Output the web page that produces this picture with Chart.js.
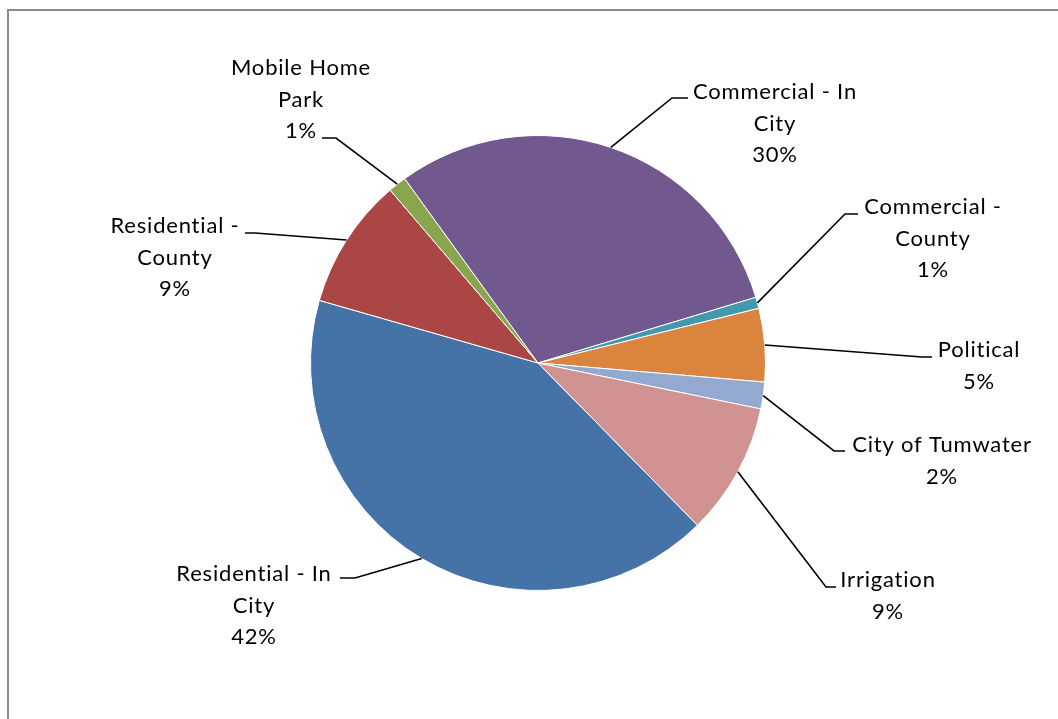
<!DOCTYPE html>
<html>
<head>
<meta charset="utf-8">
<script src="https://cdn.jsdelivr.net/npm/chart.js@4.4.1/dist/chart.umd.min.js"></script>
<style>
  html, body { margin: 0; padding: 0; background: #fff; }
  #wrap { width: 1058px; height: 719px; position: relative; }
</style>
</head>
<body>
<div id="wrap"><canvas id="pieChart" width="1058" height="719"></canvas></div>
<script>
// Data (clockwise from the Irrigation / Residential boundary)
const categories = ['Residential - In City', 'Residential - County', 'Mobile Home Park',
  'Commercial - In City', 'Commercial - County', 'Political', 'City of Tumwater', 'Irrigation'];
const shares = [41.8, 9.3, 1.3, 30.3, 0.8, 5.2, 1.9, 9.4];
const percentLabels = ['42%', '9%', '1%', '30%', '1%', '5%', '2%', '9%'];

// Label text lines and layout (text centre x, first line y, elbow point, end of tick)
const labelLines = [
  ['Residential - In', 'City'],
  ['Residential -', 'County'],
  ['Mobile Home', 'Park'],
  ['Commercial - In', 'City'],
  ['Commercial -', 'County'],
  ['Political'],
  ['City of Tumwater'],
  ['Irrigation']
];
const labelLayout = [
  { x: 254, y: 574, elbow: [355, 578], end: [340, 578] },
  { x: 175, y: 226, elbow: [255, 233], end: [245, 233] },
  { x: 301, y: 68,  elbow: [336, 138], end: [322, 138] },
  { x: 775, y: 92,  elbow: [672, 98],  end: [688, 98] },
  { x: 933, y: 207, elbow: [845, 214], end: [858, 214] },
  { x: 979, y: 350, elbow: [922, 357], end: [932, 357] },
  { x: 942, y: 445, elbow: [834, 451], end: [845, 451] },
  { x: 888, y: 580, elbow: [826, 587], end: [836, 587] }
];
const colors = ['#4572A7', '#AA4643', '#89A54E', '#71588F', '#4198AF', '#DB843D', '#93A9CF', '#D19392'];

const frame = {
  id: 'frame',
  beforeDraw(chart) {
    const ctx = chart.ctx;
    ctx.save();
    ctx.strokeStyle = '#8a8a8a';
    ctx.lineWidth = 2;
    ctx.beginPath();
    ctx.moveTo(8, 719);
    ctx.lineTo(8, 10);
    ctx.lineTo(1058, 10);
    ctx.stroke();
    ctx.restore();
  }
};

const leaderLabels = {
  id: 'leaderLabels',
  afterDraw(chart) {
    const ctx = chart.ctx;
    const meta = chart.getDatasetMeta(0);
    ctx.save();
    meta.data.forEach((arc, i) => {
      const p = arc.getProps(['x', 'y', 'startAngle', 'endAngle', 'outerRadius'], true);
      const mid = (p.startAngle + p.endAngle) / 2;
      const ax = p.x + Math.cos(mid) * p.outerRadius;
      const ay = p.y + Math.sin(mid) * p.outerRadius;
      const L = labelLayout[i];
      ctx.strokeStyle = '#000';
      ctx.lineWidth = 1.6;
      ctx.beginPath();
      ctx.moveTo(ax, ay);
      ctx.lineTo(L.elbow[0], L.elbow[1]);
      ctx.lineTo(L.end[0], L.end[1]);
      ctx.stroke();

      ctx.fillStyle = '#000';
      ctx.font = '22px Lato';
      ctx.letterSpacing = '0.8px';
      ctx.textAlign = 'center';
      ctx.textBaseline = 'middle';
      const lines = labelLines[i].concat([percentLabels[i]]);
      lines.forEach((t, k) => ctx.fillText(t, L.x, L.y + k * 31.5));
    });
    ctx.restore();
  }
};

new Chart(document.getElementById('pieChart'), {
  type: 'pie',
  data: {
    labels: categories,
    datasets: [{
      data: shares,
      backgroundColor: colors,
      borderColor: '#ffffff',
      borderWidth: 1
    }]
  },
  options: {
    responsive: false,
    animation: false,
    rotation: 135.5,
    layout: { padding: { left: 310, right: 292, top: 135, bottom: 128 } },
    plugins: { legend: { display: false }, tooltip: { enabled: false } }
  },
  plugins: [frame, leaderLabels]
});
</script>
</body>
</html>
